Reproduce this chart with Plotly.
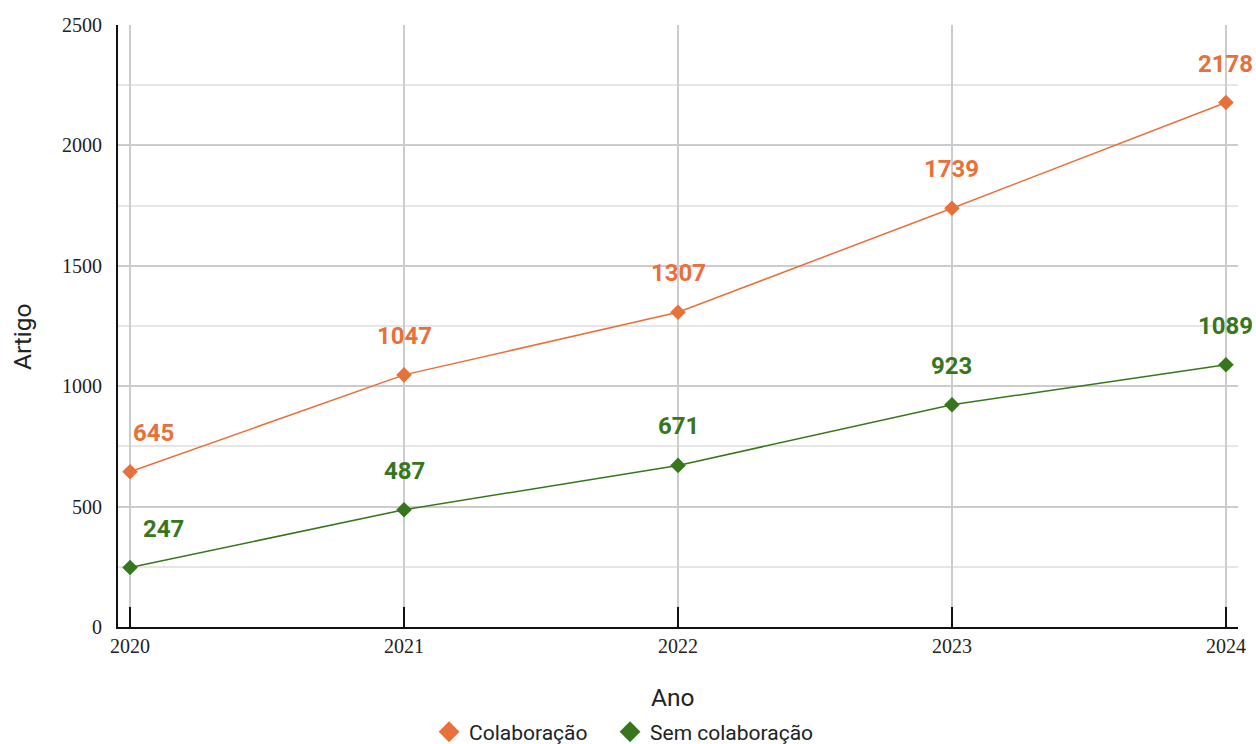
import plotly.graph_objects as go

anos = [2020, 2021, 2022, 2023, 2024]
colaboracao = [645, 1047, 1307, 1739, 2178]
sem_colaboracao = [247, 487, 671, 923, 1089]

laranja = "#E8703A"
verde = "#38761D"

# horizontal offset of the first label in each series (keeps it clear of the axis)
desloc_inicial = {"Colaboração": 23, "Sem colaboração": 33}
# each series gets its own legend box along the bottom
legenda_de = {"Colaboração": "legend", "Sem colaboração": "legend2"}

fig = go.Figure()
for nome, valores, cor in [("Colaboração", colaboracao, laranja),
                           ("Sem colaboração", sem_colaboracao, verde)]:
    fig.add_trace(go.Scatter(
        x=anos, y=valores, name=nome, mode="lines+markers",
        line=dict(color=cor, width=1.5),
        marker=dict(symbol="diamond", size=12, color=cor),
        cliponaxis=False, showlegend=False,
    ))
    # legend entry shows the diamond only
    fig.add_trace(go.Scatter(
        x=[None], y=[None], name=nome, mode="markers",
        marker=dict(symbol="diamond", size=16, color=cor),
        showlegend=True, legend=legenda_de[nome],
    ))
    for a, v in zip(anos, valores):
        fig.add_annotation(
            x=a, y=v, text=f"<b>{v}</b>", showarrow=False,
            yshift=39, xshift=desloc_inicial[nome] if a == anos[0] else 0,
            font=dict(family="Roboto", size=24, color=cor),
        )

# axis titles
fonte_titulo = dict(family="Roboto", size=24.5, color="#222")
fig.add_annotation(text="Ano", xref="paper", yref="paper", x=0.4955, y=-0.1163,
                   showarrow=False, xanchor="center", yanchor="middle", font=fonte_titulo)
fig.add_annotation(text="Artigo", xref="paper", yref="paper", x=-0.0857, y=0.4817,
                   showarrow=False, textangle=-90, xanchor="center", yanchor="middle",
                   font=fonte_titulo)

estilo_legenda = dict(orientation="h", xref="container", xanchor="left",
                      yref="container", y=0.016, yanchor="middle",
                      font=dict(family="Roboto", size=21, color="#222"),
                      itemwidth=30)

fig.update_layout(
    width=1256, height=744,
    margin=dict(l=118, r=18, t=25, b=117, autoexpand=False),
    plot_bgcolor="white", paper_bgcolor="white",
    showlegend=True,
    legend=dict(x=0.3416, **estilo_legenda),
    legend2=dict(x=0.4857, **estilo_legenda),
)
fig.update_xaxes(
    range=[2019.956, 2024.044], tickvals=anos, ticktext=[str(a) for a in anos],
    tickfont=dict(family="Liberation Serif", size=20, color="#222"),
    ticks="inside", ticklen=20, tickwidth=2, tickcolor="#111",
    showgrid=True, gridcolor="#cccccc", gridwidth=2,
    showline=True, linecolor="#111", linewidth=2,
    zeroline=False,
)
fig.update_yaxes(
    range=[0, 2500], tickvals=[0, 500, 1000, 1500, 2000, 2500],
    tickfont=dict(family="Liberation Serif", size=20, color="#222"),
    ticks="", ticklabelstandoff=10,
    showgrid=True, gridcolor="#cccccc", gridwidth=2,
    minor=dict(dtick=250, showgrid=True, gridcolor="#e6e6e6", gridwidth=2),
    showline=True, linecolor="#111", linewidth=2,
    zeroline=False,
)

fig.write_html("out.html")
